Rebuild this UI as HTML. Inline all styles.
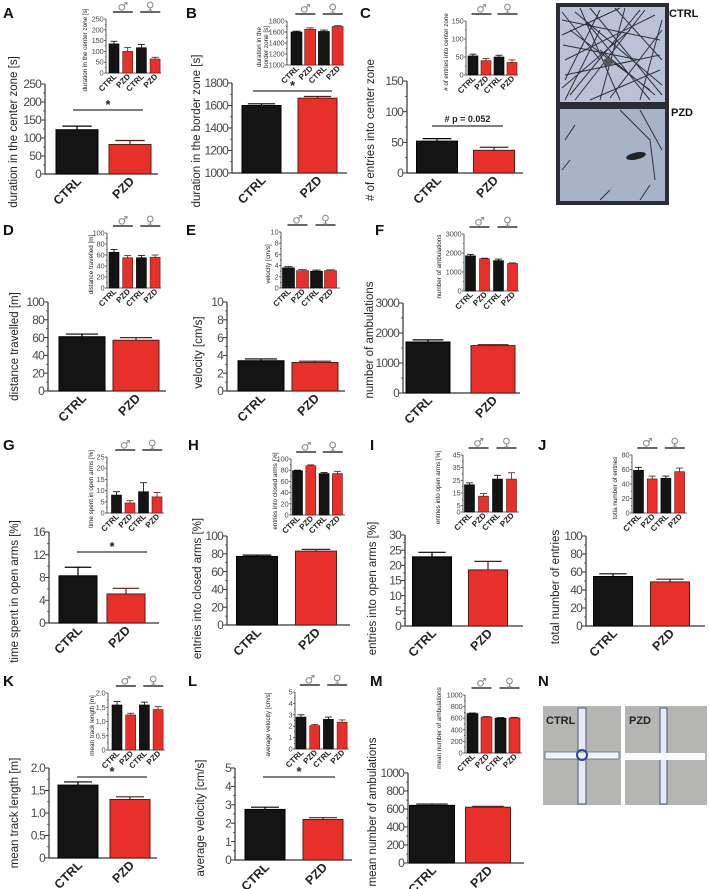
<!DOCTYPE html>
<html><head><meta charset="utf-8">
<style>
html,body{margin:0;padding:0;background:#fff;}
svg{display:block;font-family:"Liberation Sans",sans-serif;}
</style></head>
<body>
<svg id="fig" width="709" height="889" viewBox="0 0 709 889" xmlns="http://www.w3.org/2000/svg">
  <g>
    <rect x="558" y="5" width="109" height="99" fill="#b9c2d6" stroke="#2a2d33" stroke-width="4"/>
    <g stroke="#2e3138" stroke-width="1" fill="none">
      <path d="M562 20 L660 40 M565 60 L655 15 M570 95 L640 10 M580 8 L620 100 M600 10 L565 80 M610 98 L662 30 M570 30 L650 90 M590 100 L660 70 M563 45 L640 60 M625 8 L600 100 M645 10 L575 100 M565 75 L660 55 M585 20 L650 100 M600 50 L655 95 M575 12 L662 85 M562 88 L630 30 M615 8 L662 60 M562 12 L600 60 M590 8 L662 95 M562 35 L620 8 M640 100 L662 20 M565 100 L600 30"/>
    </g>
    <ellipse cx="608" cy="62" rx="5" ry="4" fill="#555"/>
    <rect x="558" y="107" width="109" height="96" fill="#a8b2c8" stroke="#2a2d33" stroke-width="4"/>
    <g stroke="#2e3138" stroke-width="1" fill="none">
      <path d="M620 110 L650 140 L655 180 M640 110 L662 150 M565 140 L575 125 M600 200 L610 190 M640 200 L650 185 M562 170 L570 160"/>
    </g>
    <ellipse cx="636" cy="156" rx="10" ry="3.5" fill="#222" transform="rotate(-12 636 156)"/>
    <text x="669" y="17" font-size="11" font-weight="bold" fill="#111">CTRL</text>
    <text x="671" y="116" font-size="11" font-weight="bold" fill="#111">PZD</text>
  </g>
  <g>
    <rect x="543" y="706" width="78" height="99" fill="#b5b5b3"/>
    <rect x="578" y="708" width="8" height="96" fill="#e8eaf0" stroke="#5b6a9a" stroke-width="1.2"/>
    <rect x="545" y="752" width="74" height="7" fill="#f4f4f4" stroke="#5b6a9a" stroke-width="0.8"/>
    <circle cx="582" cy="755" r="5" fill="none" stroke="#2f43a0" stroke-width="2"/>
    <rect x="625" y="706" width="82" height="99" fill="#b5b5b3"/>
    <rect x="660" y="708" width="7" height="96" fill="#e8eaf0" stroke="#5b6a9a" stroke-width="1.2"/>
    <rect x="625" y="753" width="80" height="7" fill="#fafafa"/>
    <text x="546" y="724" font-size="11" font-weight="bold" fill="#222">CTRL</text>
    <text x="629" y="724" font-size="11" font-weight="bold" fill="#222">PZD</text>
  </g>
</svg>
<script>
const groups = ["CTRL", "PZD"];
const insetGroups = ["CTRL", "PZD", "CTRL", "PZD"];

const aMain = [123, 82];       const aMainErr = [10, 11];
const aInset = [135, 100, 117, 65]; const aInsetErr = [12, 18, 15, 8];
const aTicks = [0, 50, 100, 150, 200, 250];

const bMain = [1600, 1665];    const bMainErr = [15, 15];
const bInset = [1600, 1650, 1610, 1700]; const bInsetErr = [15, 25, 25, 15];
const bTicks = [1000, 1200, 1400, 1600, 1800];

const cMain = [52, 37];        const cMainErr = [4, 5];
const cInset = [53, 40, 50, 35]; const cInsetErr = [5, 6, 5, 7];
const cTicks = [0, 50, 100, 150];

const dMain = [61, 57];        const dMainErr = [3, 3];
const dInset = [65, 55, 55, 56]; const dInsetErr = [5, 4, 4, 4];
const dTicks = [0, 20, 40, 60, 80, 100];

const eMain = [3.4, 3.2];      const eMainErr = [0.2, 0.15];
const eInset = [3.6, 3.1, 3.0, 3.1]; const eInsetErr = [0.2, 0.2, 0.2, 0.15];
const eTicks = [0, 2, 4, 6, 8, 10];

const fMain = [1700, 1580];    const fMainErr = [70, 30];
const fInset = [1850, 1700, 1600, 1450]; const fInsetErr = [80, 30, 80, 30];
const fTicks = [0, 1000, 2000, 3000];

const gMain = [8.3, 5.1];      const gMainErr = [1.5, 1.0];
const gInset = [8, 4.5, 9.5, 7.2]; const gInsetErr = [1.5, 1, 4, 2];
const gTicks = [0, 4, 8, 12, 16];
const gInsetTicks = [0, 5, 10, 15, 20, 25];

const hMain = [77, 83];        const hMainErr = [1.5, 2];
const hInset = [79, 88, 74, 74]; const hInsetErr = [1, 1.5, 2, 4];
const hTicks = [0, 20, 40, 60, 80, 100];

const iMain = [22.8, 18.5];    const iMainErr = [1.5, 2.8];
const iInset = [21.5, 12.5, 26, 26]; const iInsetErr = [1.5, 2, 3, 5];
const iTicks = [0, 5, 10, 15, 20, 25, 30];
const iInsetTicks = [0, 5, 15, 25, 35, 45];

const jMain = [55, 49];        const jMainErr = [3, 3];
const jInset = [59, 47, 48, 57]; const jInsetErr = [4, 4, 3, 5];
const jTicks = [0, 20, 40, 60, 80, 100];
const jInsetTicks = [0, 20, 40, 60, 80];

const kMain = [1.62, 1.3];     const kMainErr = [0.07, 0.06];
const kInset = [1.58, 1.23, 1.58, 1.42]; const kInsetErr = [0.12, 0.06, 0.1, 0.1];
const kTicks = [0, 0.5, 1.0, 1.5, 2.0];

const lMain = [2.75, 2.2];     const lMainErr = [0.12, 0.1];
const lInset = [2.8, 2.05, 2.6, 2.35]; const lInsetErr = [0.2, 0.1, 0.2, 0.2];
const lTicks = [0, 1, 2, 3, 4, 5];

const mMain = [640, 620];      const mMainErr = [15, 10];
const mInset = [680, 620, 600, 605]; const mInsetErr = [10, 10, 10, 10];
const mTicks = [0, 200, 400, 600, 800, 1000];

const NS = "http://www.w3.org/2000/svg";
const svg = document.getElementById("fig");
function mk(tag, attrs, parent) {
  const e = document.createElementNS(NS, tag);
  for (const k in attrs) e.setAttribute(k, attrs[k]);
  (parent || svg).appendChild(e);
  return e;
}
function fmt(v, dec) { return dec ? v.toFixed(dec) : String(v); }

function drawChart(g, cfg, vals, errs, cats, ticks, small, name) {
  const lo = ticks[0], hi = ticks[ticks.length - 1];
  const y = v => cfg.yBot - (v - lo) / (hi - lo) * (cfg.yBot - cfg.yTop);
  const xc = i => cfg.c1 + i * cfg.step;
  const tc = "#4a4a4a";
  mk("line", {x1: cfg.x0, y1: cfg.yTop, x2: cfg.x0, y2: cfg.yBot, stroke: "#333", "stroke-width": small ? 0.8 : 1.2}, g);
  mk("line", {x1: cfg.x0, y1: cfg.yBot, x2: cfg.x1, y2: cfg.yBot, stroke: "#333", "stroke-width": small ? 0.8 : 1.2}, g);
  ticks.forEach((t, k) => {
    const ty = y(t);
    mk("line", {x1: cfg.x0 - (small ? 2 : 4), y1: ty, x2: cfg.x0, y2: ty, stroke: "#333", "stroke-width": small ? 0.7 : 1}, g);
    if (k < ticks.length - 1) {
      const my = y((t + ticks[k + 1]) / 2);
      mk("line", {x1: cfg.x0 - (small ? 1 : 2), y1: my, x2: cfg.x0, y2: my, stroke: "#333", "stroke-width": 0.7}, g);
    }
    const tl = mk("text", {x: cfg.x0 - (small ? 2.5 : 4), y: ty + (small ? 2.5 : 4.2), "text-anchor": "end", "font-size": small ? 7.5 : 12, "letter-spacing": small ? "-0.2" : "-0.8", fill: tc}, g);
    tl.textContent = fmt(t, cfg.dec && t !== 0 ? cfg.dec : 0);
    
    
  });
  vals.forEach((v, i) => {
    const red = i % 2 === 1;
    const bx = xc(i) - cfg.bw / 2;
    const r = mk("rect", {x: bx, y: y(v), width: cfg.bw, height: cfg.yBot - y(v), fill: red ? "#e8302a" : "#141414", stroke: red ? "#5a1a14" : "#000", "stroke-width": small ? 0.6 : 1}, g);
    
    
    const ey = y(v + errs[i]);
    const cw = cfg.bw * 0.35;
    mk("line", {x1: xc(i), y1: y(v), x2: xc(i), y2: ey, stroke: red ? "#5a1a14" : "#000", "stroke-width": small ? 0.8 : 1.2}, g);
    mk("line", {x1: xc(i) - cw, y1: ey, x2: xc(i) + cw, y2: ey, stroke: red ? "#5a1a14" : "#000", "stroke-width": small ? 0.8 : 1.2}, g);
    const lx = xc(i) + (small ? 3 : 5), ly = cfg.yBot + (small ? 4 : 8);
    const xl = mk("text", {x: lx, y: ly, "text-anchor": "end", "font-size": small ? 8 : 12.5, "font-weight": "bold", fill: "#222", transform: `rotate(-45 ${lx} ${ly})`}, g);
    xl.textContent = cats[i];
    
    
  });
  const lines = cfg.label;
  const cy = (cfg.yTop + cfg.yBot) / 2 + (small ? 4 : (cfg.cyOff !== undefined ? cfg.cyOff : 5));
  lines.forEach((ln, k) => {
    const lx = cfg.lx + k * (small ? 7 : 14);
    const t = mk("text", {x: lx, y: cy, "text-anchor": "middle", "font-size": small ? 6.3 : 11.5, fill: "#222", transform: `rotate(-90 ${lx} ${cy})`}, g);
    t.textContent = ln;
    
    
  });
  if (small) {
    const ly = cfg.yTop - 7;
    const mc = cfg.c1 + cfg.step / 2 + 2, fc = cfg.c1 + cfg.step * 2.5 + 2;
    [[mc, "♂", "male"], [fc, "♀", "female"]].forEach(([c, s, nm]) => {
      mk("line", {x1: c - 10, y1: ly, x2: c + 10, y2: ly, stroke: "#333", "stroke-width": 1.4}, g);
      const st = mk("text", {x: c, y: ly - 1.5, "text-anchor": "middle", "font-size": 12, fill: "#888", "font-family": "DejaVu Sans, sans-serif"}, g);
      st.textContent = s;
      
      
    });
  }
}

function sig(g, x1, x2, yy, txt, name) {
  mk("line", {x1: x1, y1: yy, x2: x2, y2: yy, stroke: "#333", "stroke-width": 1.2}, g);
  const t = mk("text", {x: (x1 + x2) / 2, y: yy - (txt === "*" ? 1 : 4), "text-anchor": "middle", "font-size": txt === "*" ? 13 : 9, "font-weight": "bold", fill: "#222"}, g);
  t.textContent = txt;
  
  
}

function panel(letter, lx, ly, main, mv, me, mt, inset, iv, ie, it, sigs) {
  const g = mk("g", {});
  
  
  const L = mk("text", {x: lx, y: ly, "font-size": 15, "font-weight": "bold", fill: "#111"}, g);
  L.textContent = letter;
  
  
  if (main) drawChart(g, main, mv, me, groups, mt, false, 'panel-' + letter.toLowerCase() + '-main');
  if (inset) drawChart(g, inset, iv, ie, insetGroups, it, true, 'panel-' + letter.toLowerCase() + '-inset');
  (sigs || []).forEach(s => sig(g, s[0], s[1], s[2], s[3], 'panel-' + letter.toLowerCase()));
}

panel("A", 3, 18,
  {x0: 45, x1: 158, yTop: 84, yBot: 174, c1: 77, step: 53, bw: 42, lx: 17, cyOff: 3, label: ["duration in the center zone [s]"]}, aMain, aMainErr, aTicks,
  {x0: 106, x1: 161, yTop: 19, yBot: 73, c1: 114, step: 13.7, bw: 10, lx: 87, label: ["duration in the center zone [s]"]}, aInset, aInsetErr, aTicks,
  [[73, 143, 110, "*"]]);
panel("B", 186, 18,
  {x0: 232, x1: 347, yTop: 83, yBot: 173, c1: 261.5, step: 56, bw: 39, lx: 200, cyOff: 3, label: ["duration in the border zone [s]"]}, bMain, bMainErr, bTicks,
  {x0: 287, x1: 344, yTop: 21, yBot: 65, c1: 296.5, step: 13.7, bw: 11, lx: 261, label: ["duration in the", "border zone [s]"]}, bInset, bInsetErr, bTicks,
  [[253, 332, 91, "*"]]);
panel("C", 360, 18,
  {x0: 407, x1: 523, yTop: 81, yBot: 173, c1: 437, step: 57, bw: 41, lx: 374, cyOff: 3, label: ["# of entries into center zone"]}, cMain, cMainErr, cTicks,
  {x0: 466, x1: 518, yTop: 21, yBot: 75, c1: 473, step: 13, bw: 10, lx: 448, label: ["# of entries into center zone"]}, cInset, cInsetErr, cTicks,
  [[432, 503, 126, "# p = 0.052"]]);
panel("D", 3, 235,
  {x0: 48, x1: 166, yTop: 302, yBot: 391, c1: 82, step: 54, bw: 46, lx: 18, cyOff: 0, label: ["distance travelled [m]"]}, dMain, dMainErr, dTicks,
  {x0: 107, x1: 161, yTop: 233, yBot: 288, c1: 114, step: 13.7, bw: 10, lx: 93, label: ["distance travelled [m]"]}, dInset, dInsetErr, dTicks);
panel("E", 186, 235,
  {x0: 227, x1: 345, yTop: 302, yBot: 391, c1: 261, step: 54, bw: 46, lx: 202, cyOff: 6, label: ["velocity [cm/s]"]}, eMain, eMainErr, eTicks,
  {x0: 281, x1: 340, yTop: 232, yBot: 288, c1: 288.5, step: 14, bw: 12, lx: 270, label: ["velocity [cm/s]"]}, eInset, eInsetErr, eTicks);
panel("F", 375, 235,
  {x0: 403, x1: 520, yTop: 303, yBot: 393, c1: 428, step: 65, bw: 44, lx: 373, cyOff: -8, label: ["number of ambulations"]}, fMain, fMainErr, fTicks,
  {x0: 464, x1: 519, yTop: 234, yBot: 291, c1: 470.5, step: 14, bw: 10, lx: 441, label: ["number of ambulations"]}, fInset, fInsetErr, fTicks);
panel("G", 3, 450,
  {x0: 49, x1: 159, yTop: 532, yBot: 623, c1: 78, step: 48, bw: 38, lx: 18, cyOff: 14, label: ["time spent in open arms [%]"]}, gMain, gMainErr, gTicks,
  {x0: 107, x1: 164, yTop: 457, yBot: 513, c1: 116.5, step: 13.5, bw: 10, lx: 93, label: ["time spent in open arms [%]"]}, gInset, gInsetErr, gInsetTicks,
  [[77, 147, 552, "*"]]);
panel("H", 188, 450,
  {x0: 227, x1: 350, yTop: 536, yBot: 625, c1: 257, step: 59, bw: 41, lx: 201, cyOff: 8, label: ["entries into closed arms [%]"]}, hMain, hMainErr, hTicks,
  {x0: 291, x1: 345, yTop: 459, yBot: 515, c1: 297.5, step: 13.3, bw: 10, lx: 277, label: ["entries into closed arms [%]"]}, hInset, hInsetErr, hTicks);
panel("I", 370, 450,
  {x0: 405, x1: 523, yTop: 535, yBot: 626, c1: 432, step: 56, bw: 39, lx: 376, cyOff: 8, label: ["entries into open arms [%]"]}, iMain, iMainErr, iTicks,
  {x0: 463, x1: 519, yTop: 455, yBot: 512, c1: 469.5, step: 14, bw: 10, lx: 440, label: ["entries into open arms [%]"]}, iInset, iInsetErr, iInsetTicks);
panel("J", 538, 450,
  {x0: 586, x1: 705, yTop: 536, yBot: 626, c1: 613, step: 57, bw: 39, lx: 559, cyOff: 6, label: ["total number of entries"]}, jMain, jMainErr, jTicks,
  {x0: 632, x1: 687, yTop: 455, yBot: 513, c1: 638.5, step: 13.7, bw: 10, lx: 617, label: ["totla number of entries"]}, jInset, jInsetErr, jInsetTicks);
panel("K", 3, 686,
  {x0: 49, x1: 157, yTop: 768, yBot: 858, c1: 78, step: 52, bw: 40, dec: 1, lx: 18, cyOff: 0, label: ["mean track length [m]"]}, kMain, kMainErr, kTicks,
  {x0: 108, x1: 165, yTop: 693, yBot: 750, c1: 117, step: 13.7, bw: 10, dec: 1, lx: 94, label: ["mean track length [m]"]}, kInset, kInsetErr, kTicks,
  [[77, 147, 777, "*"]]);
panel("L", 188, 686,
  {x0: 235, x1: 352, yTop: 768, yBot: 860, c1: 265, step: 58, bw: 40, lx: 204, cyOff: 4, label: ["average velocity [cm/s]"]}, lMain, lMainErr, lTicks,
  {x0: 295, x1: 349, yTop: 692, yBot: 749, c1: 301, step: 13.7, bw: 10, lx: 270, label: ["average velocity [cm/s]"]}, lInset, lInsetErr, lTicks,
  [[263, 335, 777, "*"]]);
panel("M", 370, 686,
  {x0: 408, x1: 524, yTop: 773, yBot: 863, c1: 432, step: 56, bw: 45, lx: 376, cyOff: -6, label: ["mean number of ambulations"]}, mMain, mMainErr, mTicks,
  {x0: 465, x1: 522, yTop: 695, yBot: 753, c1: 472.5, step: 14, bw: 11, lx: 441, label: ["mean number of ambulations"]}, mInset, mInsetErr, mTicks);
panel("N", 538, 686, null, null, null, null, null, null, null, null);
</script>
</body></html>
